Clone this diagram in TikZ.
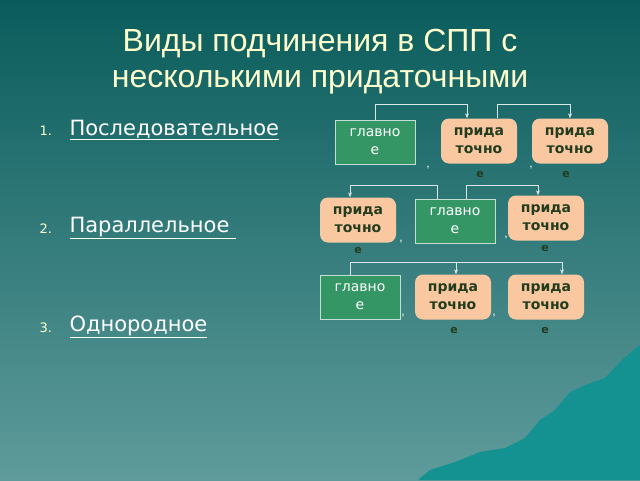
\documentclass[tikz,border=0pt]{standalone}
\usepackage{fontspec}
\setmainfont{Liberation Sans}
\newfontfamily\wide{DejaVu Sans}
\usetikzlibrary{positioning, arrows.meta}
\definecolor{bgtop}{RGB}{10,92,92}
\definecolor{bgbot}{RGB}{95,155,155}
\definecolor{hill}{RGB}{20,145,145}
\definecolor{mainbox}{RGB}{52,150,100}
\definecolor{subbox}{RGB}{250,200,160}
\definecolor{subtext}{RGB}{35,60,30}
\definecolor{titletext}{RGB}{255,255,205}
\begin{document}
\begin{tikzpicture}[
    x=1pt, y=-1pt,
    mainb/.style={draw=white!70!mainbox, fill=mainbox, minimum width=80pt, minimum height=44pt, font=\wide\fontsize{14}{18}\selectfont, text=white, align=center, inner sep=1pt},
    subb/.style={fill=subbox, rounded corners=8pt, minimum width=76pt, minimum height=45pt, font=\wide\fontsize{14}{18}\selectfont\bfseries, text=subtext, align=center, inner sep=1pt},
    tail/.style={font=\wide\fontsize{11}{14}\selectfont\bfseries, text=subtext},
    comma/.style={font=\fontsize{12}{14}\selectfont, text=white},
    link/.style={draw=white!85!bgtop, -{Stealth[length=5pt]}},
    item/.style={font=\wide\fontsize{21}{25}\selectfont, text=white, anchor=west},
    num/.style={font=\wide\fontsize{13}{16}\selectfont, text=titletext, anchor=west},
]
% Background
\shade[top color=bgtop, bottom color=bgbot] (0,0) rectangle (640,480);
\useasboundingbox (0,0) rectangle (640,480);
\fill[hill] (640,345) -- (622,360) -- (605,378) -- (588,384) -- (570,392) -- (555,410) -- (540,420) -- (525,438) -- (505,448) -- (480,452) -- (455,462) -- (430,470) -- (418,480) -- (640,480) -- cycle;

% Title
\node[font=\fontsize{32}{36}\selectfont, text=titletext, align=center] (title) at (320,62) {Виды подчинения в СПП с\\несколькими придаточными};

% List
\node[num] (n1) at (36,131) {1.};
\node[item] (l1) at (66,130) {\underline{Последовательное}};
\node[num] (n2) at (36,229) {2.};
\node[item] (l2) at (66,228) {\underline{Параллельное }};
\node[num] (n3) at (36,328) {3.};
\node[item] (l3) at (66,327) {\underline{Однородное}};

% Row 1
\node[mainb] (m1) at (375,142) {главно\\е};
\node[subb] (s1a) at (479,141) {прида\\точно};
\node[subb] (s1b) at (570,141) {прида\\точно};
\node[tail] (e1a) at (480,174) {е};
\node[tail] (e1b) at (566,174) {е};
\node[comma] (c1a) at (428,168) {,};
\node[comma] (c1b) at (531,168) {,};
\coordinate (t1) at (0,104);
\draw[link] (m1.north) |- ([xshift=-12]s1a.north |- t1) -- ([xshift=-12]s1a.north);
\draw[link] ([xshift=18]s1a.north) |- (s1b.north |- t1) -- (s1b.north);

% Row 2
\node[subb] (s2a) at (358,220) {прида\\точно};
\node[mainb] (m2) at (455,221) {главно\\е};
\node[subb] (s2b) at (546,218) {прида\\точно};
\node[tail] (e2a) at (358,250) {е};
\node[tail] (e2b) at (545,248) {е};
\node[comma] (c2a) at (401,242) {,};
\node[comma] (c2b) at (506,238) {,};
\coordinate (t2) at (0,185);
\draw[link] ([xshift=-18]m2.north) |- ([xshift=-8]s2a.north |- t2) -- ([xshift=-8]s2a.north);
\draw[link] ([xshift=11]m2.north) |- ([xshift=-8]s2b.north |- t2) -- ([xshift=-8]s2b.north);

% Row 3
\node[mainb] (m3) at (360,297) {главно\\е};
\node[subb] (s3a) at (453,297) {прида\\точно};
\node[subb] (s3b) at (546,297) {прида\\точно};
\node[tail] (e3a) at (454,330) {е};
\node[tail] (e3b) at (545,330) {е};
\node[comma] (c3a) at (403,316) {,};
\node[comma] (c3b) at (494,316) {,};
\coordinate (t3) at (0,262);
\draw[link] ([xshift=-10]m3.north) |- ([xshift=3]s3a.north |- t3) -- ([xshift=3]s3a.north);
\draw[link] ([xshift=3]s3a.north |- t3) -- ([xshift=16]s3b.north |- t3) -- ([xshift=16]s3b.north);
\end{tikzpicture}
\end{document}
